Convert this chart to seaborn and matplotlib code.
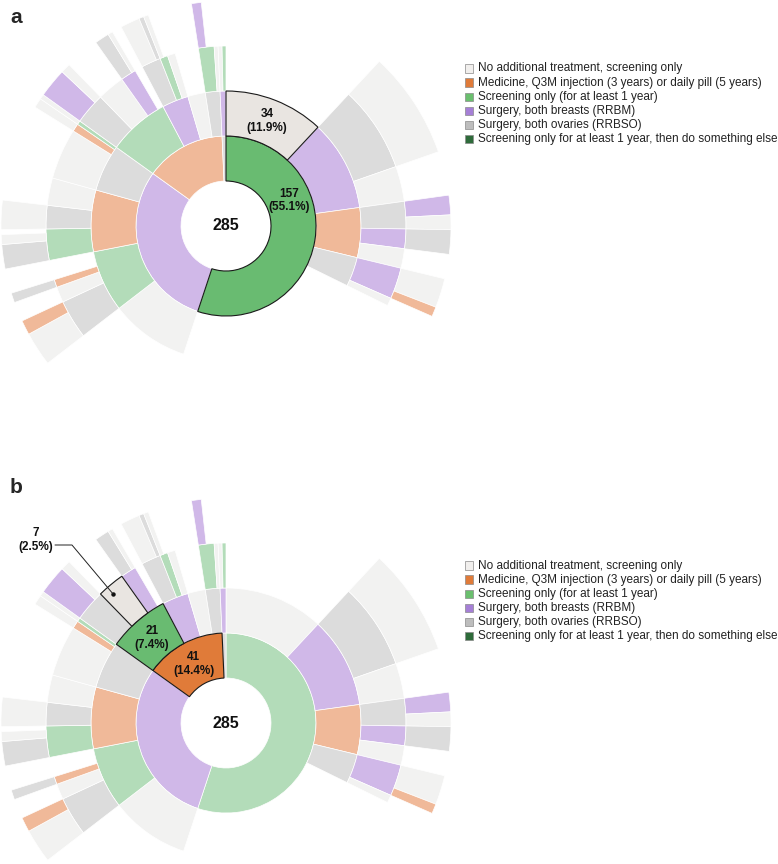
import numpy as np
import matplotlib
matplotlib.use("Agg")
import matplotlib.pyplot as plt
from matplotlib.patches import Rectangle
import seaborn as sns

sns.set_theme(style="white")
plt.rcParams['font.family'] = ['Liberation Sans', 'DejaVu Sans']

W, H = 778, 864
TOTAL = 285

# ---------------- categories / legend ----------------
legend_keys = ["none", "med", "screen", "rrbm", "rrbso", "screen_else"]
legend_labels = [
    "No additional treatment, screening only",
    "Medicine, Q3M injection (3 years) or daily pill (5 years)",
    "Screening only (for at least 1 year)",
    "Surgery, both breasts (RRBM)",
    "Surgery, both ovaries (RRBSO)",
    "Screening only for at least 1 year, then do something else",
]
full_colors = {"none": "#e9e5e1", "med": "#e07b39", "screen": "#69bb71",
               "rrbm": "#a57fd6", "rrbso": "#bdbdbd", "screen_else": "#2e6b3a"}
faded_colors = {"none": "#f2f2f1", "med": "#f0b999", "screen": "#b3dcb9",
                "rrbm": "#d0b8e8", "rrbso": "#dcdcdc", "screen_else": "#9ab8a0"}
legend_box_colors = {"none": "#f1efed", "med": "#e07b39", "screen": "#6abf6e",
                     "rrbm": "#a57fd6", "rrbso": "#bdbdbd", "screen_else": "#2e6b3a"}

# ---------------- hierarchy (ring by ring) ----------------
ring1_cat = ["screen", "rrbm", "med", "rrbso"]
ring1_val = [157, 85, 41, 2]

ring2_parent = [0, 0, 0, 0, 1, 1, 1, 1, 2, 2, 2, 2, 3]
ring2_cat = ["none", "rrbm", "med", "rrbso",
             "none", "screen", "med", "rrbso",
             "screen", "rrbm", "none", "rrbso",
             "rrbm"]
ring2_val = [34, 31, 17, 10, 27, 21, 21, 16, 21, 9, 6, 5, 2]

ring3_parent = [1, 1, 2, 2, 2, 3, 3, 5, 5, 5, 6, 6, 6, 7, 7, 7,
                8, 8, 8, 9, 9, 9, 11, 11, 12, 12]
ring3_cat = ["rrbso", "none", "rrbso", "rrbm", "none", "rrbm", "none",
             "rrbso", "none", "med", "screen", "rrbso", "none",
             "none", "med", "screen", "rrbso", "none", "rrbm",
             "rrbso", "screen", "none", "screen", "none", "none", "screen"]
ring3_val = [22, 9, 7, 5, 5, 8, 2, 10, 4, 2, 8, 6, 7, 13, 2, 1,
             8, 7, 4, 5, 2, 2, 4, 1, 1, 1]

ring4_parent = [0, 2, 2, 3, 5, 5, 7, 7, 9, 10, 10, 11, 14, 15,
                16, 16, 18, 18, 19, 19, 20, 22]
ring4_cat = ["none", "rrbm", "none", "rrbso", "none", "med", "none", "med",
             "rrbso", "rrbso", "none", "none", "none", "none",
             "rrbm", "none", "rrbso", "none", "none", "rrbso", "none", "rrbm"]
ring4_val = [22, 4, 3, 5, 6, 2, 7, 3, 2, 5, 2, 6, 2, 1,
             6, 2, 3, 1, 4, 1, 1, 2]

rings = [(None, ring1_cat, ring1_val),
         (ring2_parent, ring2_cat, ring2_val),
         (ring3_parent, ring3_cat, ring3_val),
         (ring4_parent, ring4_cat, ring4_val)]

# highlighted paths: (ring level, index in ring)
highlight_a = {(0, 0), (1, 0)}
highlight_b = {(0, 2), (1, 8), (2, 17)}

R0, DR = 45, 45


def layout():
    out, prev = [], None
    for parents, cats, vals in rings:
        starts = []
        if parents is None:
            c = 0
            for v in vals:
                starts.append(c)
                c += v
        else:
            cursor = {}
            for p, v in zip(parents, vals):
                s = cursor.get(p, prev[p])
                starts.append(s)
                cursor[p] = s + v
        out.append(starts)
        prev = starts
    return out


positions = layout()


def ang(count):
    return 2 * np.pi * count / TOTAL


def draw_panel(ax, highlight):
    for level, (parents, cats, vals) in enumerate(rings):
        for i, (s, v, c) in enumerate(zip(positions[level], vals, cats)):
            hl = (level, i) in highlight
            ax.bar(ang(s), DR, width=ang(v), bottom=R0 + level * DR, align='edge',
                   color=full_colors[c] if hl else faded_colors[c],
                   edgecolor='#1a1a1a' if hl else 'white',
                   linewidth=0.8 if hl else 0.5, zorder=4 if hl else 2)
    ax.text(0, 0, str(TOTAL), ha='center', va='center', fontsize=11.5,
            fontweight='bold', color='#111111', zorder=6)


def seg_label(ax, level, i, theta=None, r=None):
    s = positions[level][i]
    v = rings[level][2][i]
    th = ang(s + v / 2) if theta is None else np.deg2rad(theta)
    rr = R0 + level * DR + DR / 2 if r is None else r
    ax.text(th, rr, f"{v}\n({100 * v / TOTAL:.1f}%)", ha='center', va='center',
            fontsize=8.5, fontweight='bold', color='#111111', linespacing=1.2,
            zorder=6)


def draw_legend(fig, top_y):
    for k, (key, label) in enumerate(zip(legend_keys, legend_labels)):
        y = top_y + k * 14.1
        fig.patches.append(Rectangle((465 / W, 1 - (y + 4.2) / H), 8.4 / W, 8.4 / H,
                                     transform=fig.transFigure,
                                     facecolor=legend_box_colors[key],
                                     edgecolor='#8a8a8a', linewidth=0.5))
        fig.text(478 / W, 1 - y / H, label, fontsize=8.5, ha='left', va='center',
                 color='#222222')


fig = plt.figure(figsize=(W / 100, H / 100), dpi=100)
fig.patch.set_facecolor('white')

D = 452
centers = [(226, 226), (226, 723)]
axes = []
for cx, cy in centers:
    ax = fig.add_axes([(cx - D / 2) / W, (H - cy - D / 2) / H, D / W, D / H],
                      projection='polar')
    ax.set_theta_zero_location('N')
    ax.set_theta_direction(-1)
    ax.set_ylim(0, D / 2)
    ax.set_axis_off()
    axes.append(ax)

ax_a, ax_b = axes
draw_panel(ax_a, highlight_a)
seg_label(ax_a, 0, 0, theta=68, r=68)
seg_label(ax_a, 1, 0)

draw_panel(ax_b, highlight_b)
seg_label(ax_b, 0, 2)
seg_label(ax_b, 1, 8)

# outside label with leader line for the small highlighted segment
lvl, idx = 2, 17
s7 = positions[lvl][idx]
v7 = rings[lvl][2][idx]
th7 = ang(s7 + v7 / 2) - np.deg2rad(1.4)
ax_b.plot([th7], [172], 'o', ms=2.2, color='#111111', zorder=7)
ax_b.annotate('', xy=(th7, 172), xycoords='data',
              xytext=(55, H - 545), textcoords='figure pixels',
              arrowprops=dict(arrowstyle='-', color='#222222', lw=0.7,
                              shrinkA=0, shrinkB=0,
                              connectionstyle='angle,angleA=0,angleB=-50'),
              annotation_clip=False, zorder=7)
fig.text(36 / W, 1 - 540 / H, f"{v7}\n({100 * v7 / TOTAL:.1f}%)", ha='center',
         va='center', fontsize=8.5, fontweight='bold', color='#111111',
         linespacing=1.3)

draw_legend(fig, 68.5)
draw_legend(fig, 565.5)

fig.text(10 / W, 1 - 23 / H, 'a', fontsize=15, fontweight='bold', ha='left',
         va='baseline')
fig.text(10 / W, 1 - 493 / H, 'b', fontsize=15, fontweight='bold', ha='left',
         va='baseline')

fig.savefig('out.png', dpi=100, facecolor='white')
